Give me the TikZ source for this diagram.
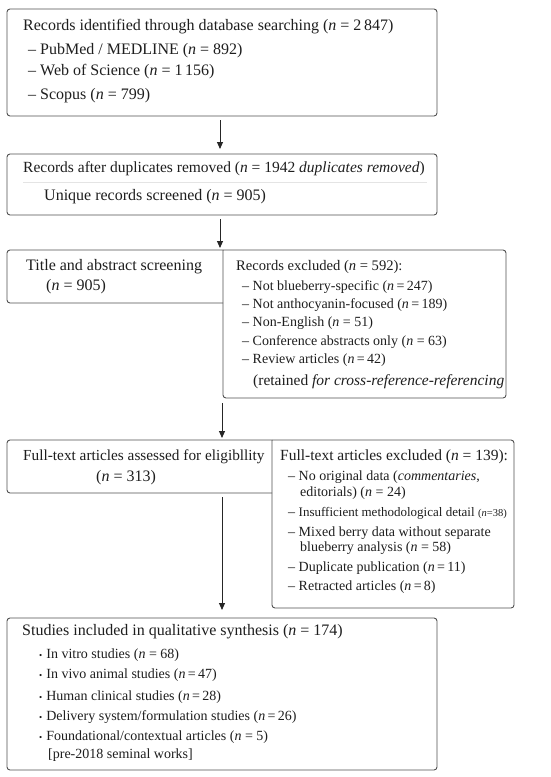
\documentclass[tikz,border=0pt]{standalone}
\usepackage{fontspec}
\setmainfont{Liberation Serif}
\usetikzlibrary{arrows.meta}
\definecolor{lineg}{HTML}{505050}
\definecolor{sepg}{HTML}{E4E4E4}
\definecolor{txtc}{HTML}{1E1E1E}
\newcommand{\nn}{\textit{n}}
\begin{document}
\begin{tikzpicture}[x=1pt,y=-1pt,
  boxline/.style={draw=lineg, line width=0.9pt},
  area/.style={inner sep=0pt, outer sep=0pt, anchor=north west},
  txt/.style={anchor=west, inner sep=0pt, text=txtc, font=\fontsize{16}{18}\selectfont},
  ntxt/.style={txt, font=\fontsize{15.5}{17}\selectfont},
  mitm/.style={txt, font=\fontsize{15.5}{17}\selectfont},
  itm/.style={txt, font=\fontsize{14}{16}\selectfont},
  sitm/.style={txt, font=\fontsize{14}{16}\selectfont},
  arr/.style={draw=black!85, line width=0.9pt, -{Triangle[length=7pt,width=6pt]}}]
\useasboundingbox (0,0) rectangle (550,777);
\fill[white] (0,0) rectangle (550,777);

% box areas
\node[area, minimum width=430pt, minimum height=107pt] (b1) at (7,9) {};
\node[area, minimum width=430pt, minimum height=61pt] (b2) at (7,154) {};
\node[area, minimum width=216pt, minimum height=53pt] (b3l) at (7,250) {};
\node[area, minimum width=283pt, minimum height=148pt] (b3r) at (223,250) {};
\node[area, minimum width=265pt, minimum height=53pt] (b4l) at (7,440) {};
\node[area, minimum width=242pt, minimum height=168pt] (b4r) at (272,440) {};
\node[area, minimum width=430pt, minimum height=152pt] (b5) at (7,618) {};

% outlines
\draw[boxline, rounded corners=3pt] (b1.north west) rectangle (b1.south east);
\draw[boxline, rounded corners=3pt] (b2.north west) rectangle (b2.south east);
\draw[boxline, rounded corners=3pt] (b3l.north east) -- (b3l.north west) -- (b3l.south west) -- (b3l.south east);
\draw[boxline, rounded corners=3pt] (b3r.north west) -- (b3r.north east) -- (b3r.south east) -- (b3r.south west) -- (b3r.north west);
\draw[boxline, rounded corners=3pt] (b4l.north east) -- (b4l.north west) -- (b4l.south west) -- (b4l.south east);
\draw[boxline, rounded corners=3pt] (b4r.north west) -- (b4r.north east) -- (b4r.south east) -- (b4r.south west) -- (b4r.north west);
\draw[boxline, rounded corners=3pt] (b5.north west) rectangle (b5.south east);

% separator in box 2
\coordinate (s1) at (23,182);
\coordinate (s2) at (427,182);
\draw[sepg, line width=0.6pt] (s1) -- (s2);

% arrows
\coordinate (a1s) at (220,120); \coordinate (a1e) at (220,149);
\coordinate (a2s) at (220,219); \coordinate (a2e) at (220,248);
\coordinate (a3s) at (222,403); \coordinate (a3e) at (222,438);
\coordinate (a4s) at (222,497); \coordinate (a4e) at (222,610);
\draw[arr] (a1s) -- (a1e);
\draw[arr] (a2s) -- (a2e);
\draw[arr] (a3s) -- (a3e);
\draw[arr] (a4s) -- (a4e);

% box 1 text
\node[txt] (t1) at (23,27) {Records identified through database searching (\nn{} = 2\,847)};
\node[txt] (t1a) at (28,51) {– PubMed / MEDLINE (\nn{} = 892)};
\node[txt] (t1b) at (28,72) {– Web of Science (\nn{} = 1\,156)};
\node[txt] (t1c) at (28,96) {– Scopus (\nn{} = 799)};

% box 2 text
\node[ntxt] (t2) at (23,169) {Records after duplicates removed (\nn{} = 1942 \textit{duplicates removed})};
\node[txt] (t2a) at (44,197) {Unique records screened (\nn{} = 905)};

% box 3 text
\node[txt] (t3) at (26,267) {Title and abstract screening};
\node[txt] (t3a) at (46,287) {(\nn{} = 905)};
\node[itm, font=\fontsize{14.6}{17}\selectfont] (t3r) at (236,267) {Records excluded (\nn{} = 592):};
\node[itm] (t3r1) at (242,287) {– Not blueberry-specific (\nn{}\,=\,247)};
\node[itm] (t3r2) at (242,305) {– Not anthocyanin-focused (\nn{}\,=\,189)};
\node[itm] (t3r3) at (242,323) {– Non-English (\nn{} = 51)};
\node[itm] (t3r4) at (242,342) {– Conference abstracts only (\nn{} = 63)};
\node[itm] (t3r5) at (242,360) {– Review articles (\nn{}\,=\,42)};
\node[mitm] (t3r6) at (253,382) {(retained \textit{for cross-reference-referencing}};

% box 4 text
\node[ntxt, font=\fontsize{15.3}{17}\selectfont] (t4) at (23,457) {Full-text articles assessed for eligibllity};
\node[txt] (t4a) at (96,478) {(\nn{} = 313)};
\node[mitm] (t4r) at (280,457) {Full-text articles excluded (\nn{} = 139):};
\node[itm] (t4r1) at (288,477) {– No original data (\textit{commentaries},};
\node[itm] (t4r1b) at (300,493) {editorials) (\nn{} = 24)};
\node[itm] (t4r2) at (288,513) {– {\fontsize{13}{15}\selectfont Insufficient methodological detail} {\fontsize{10.5}{12}\selectfont(\nn{}=38)}};
\node[itm] (t4r3) at (288,533) {– Mixed berry data without separate};
\node[itm] (t4r3b) at (300,548) {blueberry analysis (\nn{} = 58)};
\node[itm] (t4r4) at (288,568) {– Duplicate publication (\nn{}\,=\,11)};
\node[itm] (t4r5) at (288,587) {– Retracted articles (\nn{}\,=\,8)};

% box 5 text
\node[txt] (t5) at (22,632) {Studies included in qualitative synthesis (\nn{} = 174)};
\node[sitm] (t51) at (39,655) {{\fontsize{9}{10}\selectfont•}\hspace{4pt}In vitro studies (\nn{} = 68)};
\node[sitm] (t52) at (39,675) {{\fontsize{9}{10}\selectfont•}\hspace{4pt}In vivo animal studies (\nn{}\,=\,47)};
\node[sitm] (t53) at (39,697) {{\fontsize{9}{10}\selectfont•}\hspace{4pt}Human clinical studies (\nn{}\,=\,28)};
\node[sitm] (t54) at (39,717) {{\fontsize{9}{10}\selectfont•}\hspace{4pt}Delivery system/formulation studies (\nn{}\,=\,26)};
\node[sitm] (t55) at (39,737) {{\fontsize{9}{10}\selectfont•}\hspace{4pt}Foundational/contextual articles (\nn{} = 5)};
\node[sitm] (t56) at (48,755) {[pre-2018 seminal works]};
\end{tikzpicture}
\end{document}
